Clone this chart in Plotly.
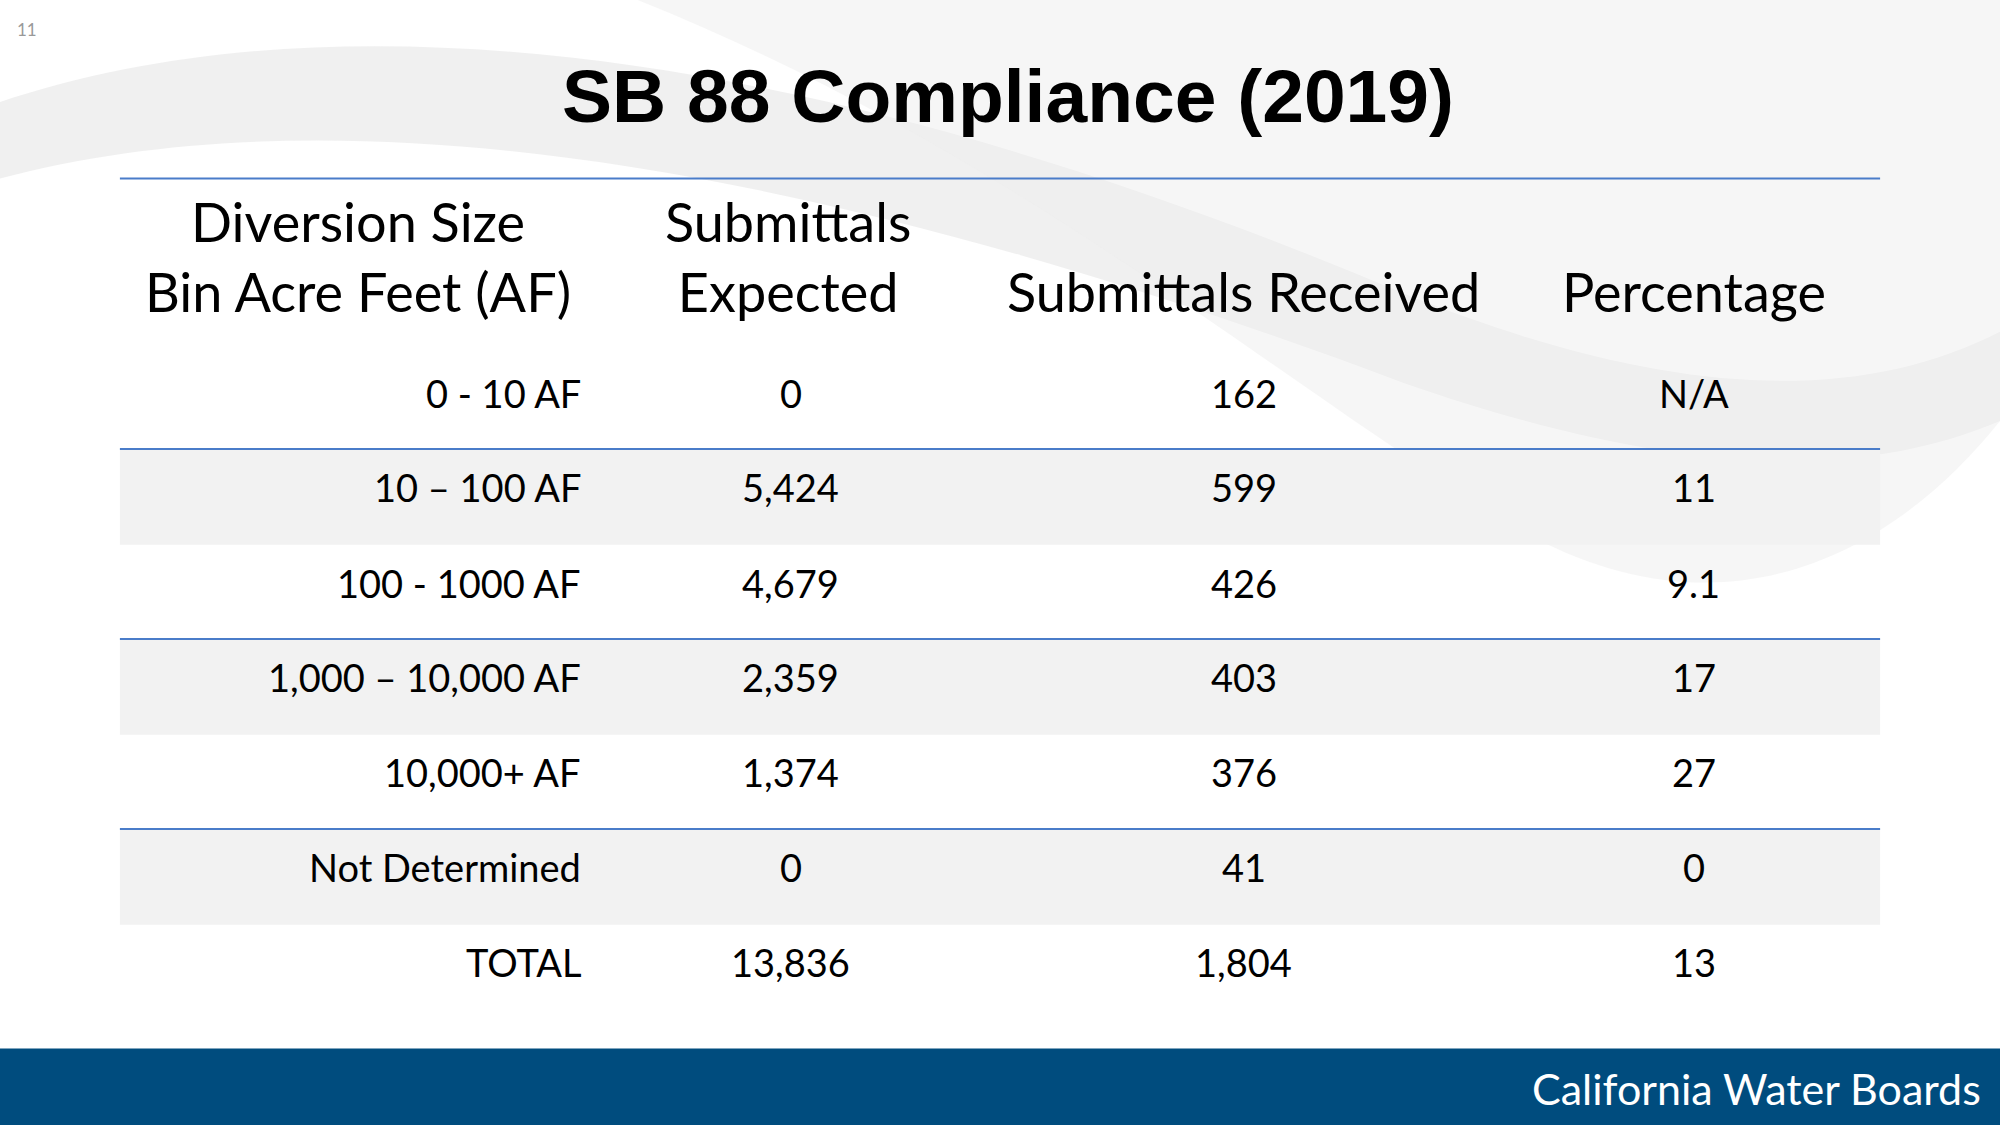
import plotly.graph_objects as go

title = "SB 88 Compliance (2019)"
header_cols = ["Diversion Size<br>Bin Acre Feet (AF)", "Submittals<br>Expected", "Submittals Received", "Percentage"]
bins = ["0 - 10 AF", "10 – 100 AF", "100 - 1000 AF", "1,000 – 10,000 AF", "10,000+ AF", "Not Determined", "TOTAL"]
expected = ["0", "5,424", "4,679", "2,359", "1,374", "0", "13,836"]
received = ["162", "599", "426", "403", "376", "41", "1,804"]
percentage = ["N/A", "11", "9.1", "17", "27", "0", "13"]

W, H = 1568, 882
fig = go.Figure()
fig.update_xaxes(range=[0, W], visible=False)
fig.update_yaxes(range=[H, 0], visible=False)
shapes, ann = [], []
FONT = "Lato, Calibri, sans-serif"
BLUE = "#4a7cc9"

for path, col in [
    ("M 0 80 C 300 -20 700 60 1100 230 C 1300 310 1450 320 1568 260 L 1568 330 C 1450 380 1300 370 1100 300 C 700 150 300 60 0 140 Z", "rgba(230,230,230,0.6)"),
    ("M 500 0 C 800 120 1000 300 1200 420 C 1350 500 1480 440 1568 330 L 1568 0 Z", "rgba(238,238,238,0.5)"),
]:
    shapes.append(dict(type="path", path=path, fillcolor=col, line=dict(width=0), layer="below"))

row_y = [308, 382, 457, 531, 605, 680, 754]
for i, y in enumerate(row_y):
    if i in (1, 3, 5):
        shapes.append(dict(type="rect", x0=94, x1=1474, y0=y - 30, y1=y + 45,
                           fillcolor="#f2f2f2", line=dict(width=0), layer="below"))
        shapes.append(dict(type="line", x0=94, x1=1474, y0=y - 30, y1=y - 30,
                           line=dict(color=BLUE, width=2)))
shapes.append(dict(type="line", x0=94, x1=1474, y0=140, y1=140, line=dict(color=BLUE, width=2)))

shapes.append(dict(type="rect", x0=0, x1=W, y0=822, y1=H, fillcolor="#004c7e", line=dict(width=0)))
ann.append(dict(x=1555, y=853, text="California Water Boards", xanchor="right", yanchor="middle",
                showarrow=False, font=dict(family=FONT, size=43, color="white")))

ann.append(dict(x=790, y=75, text="<b>" + title + "</b>", showarrow=False, yanchor="middle",
                font=dict(family="Arial, Liberation Sans", size=75, color="black")))
ann.append(dict(x=12, y=23, text="11", showarrow=False, xanchor="left", yanchor="middle",
                font=dict(family=FONT, size=17, color="#999999")))

hx = [281, 618, 975, 1328]
for x, t in zip(hx, header_cols):
    ann.append(dict(x=x, y=232, text=t, showarrow=False, yanchor="bottom", yshift=-30,
                    font=dict(family=FONT, size=54, color="black")))

for i, y in enumerate(row_y):
    ann.append(dict(x=457, y=y, text=bins[i], xanchor="right", yanchor="middle", showarrow=False,
                    font=dict(family=FONT, size=38, color="black")))
    for x, arr in [(620, expected), (975, received), (1328, percentage)]:
        ann.append(dict(x=x, y=y, text=arr[i], yanchor="middle", showarrow=False,
                        font=dict(family=FONT, size=38, color="black")))

fig.update_layout(width=2000, height=1125, margin=dict(l=0, r=0, t=0, b=0),
                  plot_bgcolor="white", paper_bgcolor="white", shapes=shapes, annotations=ann,
                  showlegend=False)
fig.write_html("out.html", config={"displayModeBar": False})
with open("out.html", encoding="utf-8") as f:
    html = f.read()
html = html.replace("<head>", "<head><style>html,body{margin:0;padding:0;overflow:hidden}</style>", 1)
with open("out.html", "w", encoding="utf-8") as f:
    f.write(html)
